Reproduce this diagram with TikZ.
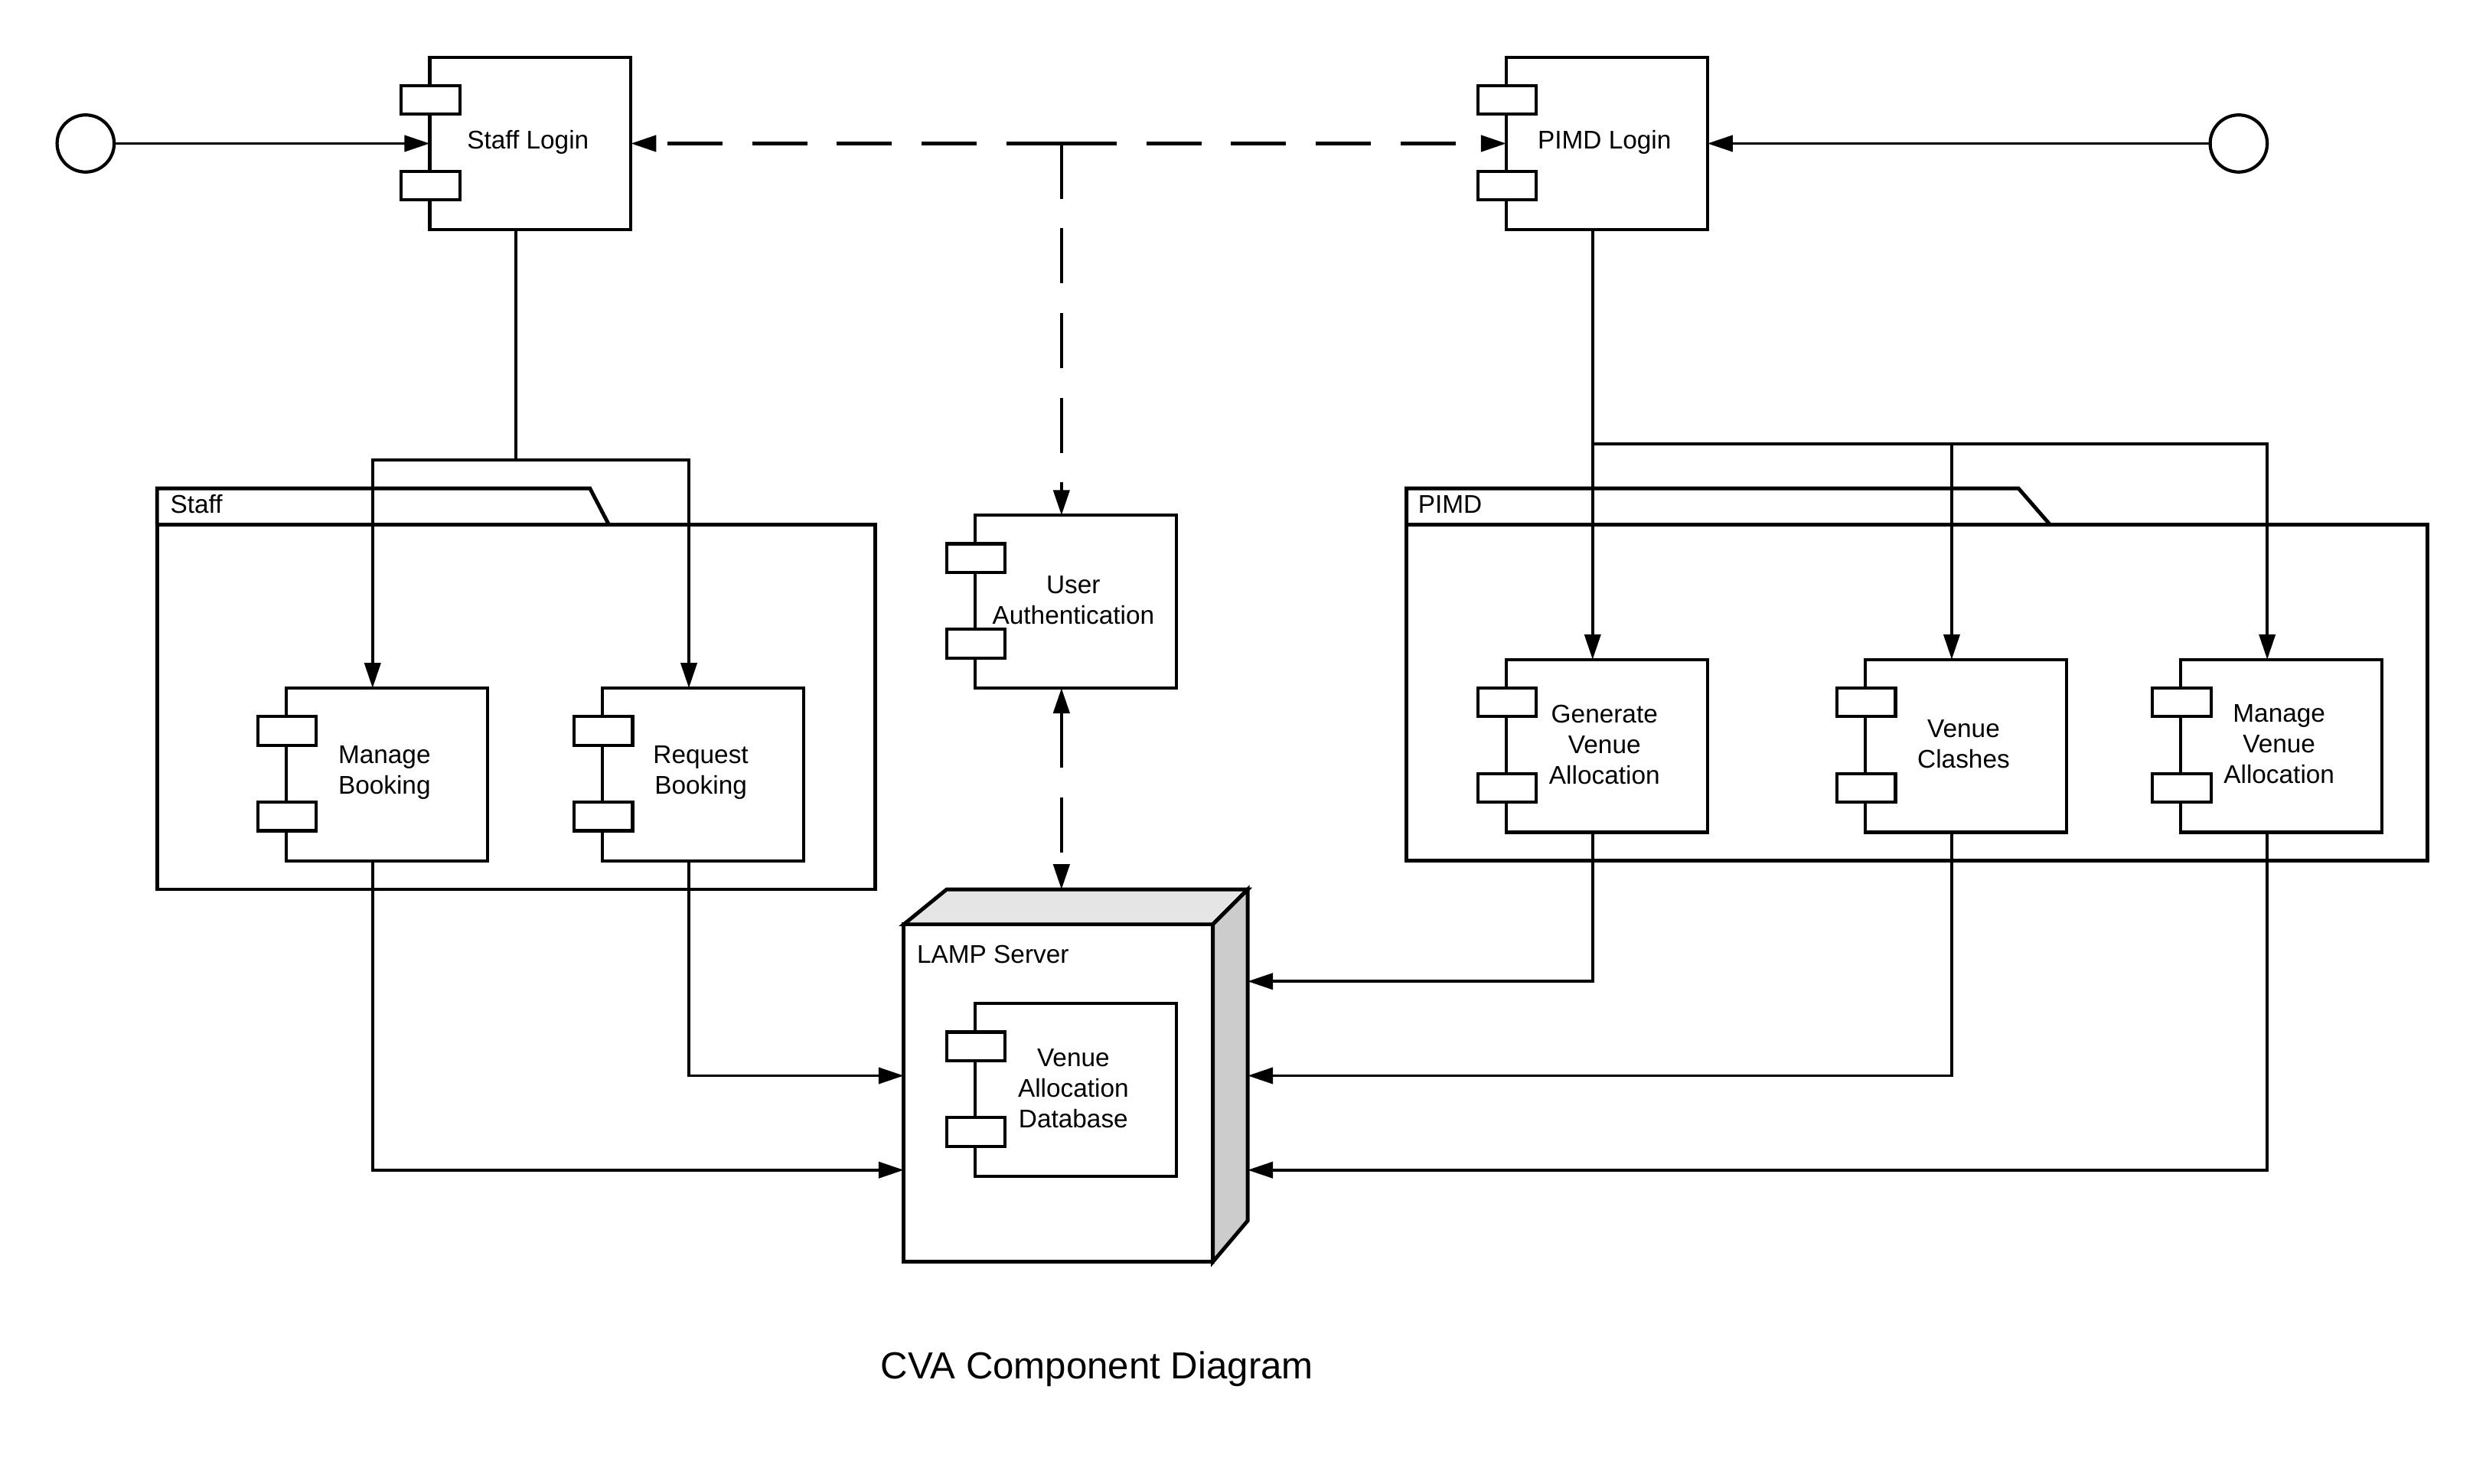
\documentclass[tikz,border=0pt]{standalone}
\usepackage{fontspec}
\setmainfont{Liberation Sans}
\usetikzlibrary{arrows.meta,calc}

% UML component: frame node spanning ports and body, body box, two ports, centred label
\newcommand\umlcomp[3]{%
  \node[compframe] (#1) at #2 {};
  \draw[boxline] ($(#1.north west)+(18,0)$) rectangle (#1.south east);
  \draw[portbox] ($(#1.north west)+(0,18)$) rectangle ++(37,18);
  \draw[portbox] ($(#1.south west)+(0,-37)$) rectangle ++(37,18);
  \node[complabel] (#1-text) at ($(#1.center)+(7.5,-1)$) {#3};
}

\begin{document}
\begin{tikzpicture}[x=0.020714cm, y=-0.020714cm,
  every node/.style={font=\fontsize{9.5}{11.4}\selectfont},
  compframe/.style={draw=none, minimum width=3.00353cm, minimum height=2.25783cm, inner sep=0, outer sep=0},
  boxline/.style={draw=black, line width=1.2pt, fill=white},
  portbox/.style={draw=black, line width=1.2pt, fill=white},
  complabel/.style={align=center, inner sep=0},
  tip/.style={-{Triangle[length=9.4pt,width=6pt]}},
  conn/.style={line width=1.1pt, tip},
  wire/.style={line width=1.1pt},
  depend/.style={line width=1.2pt, dash pattern=on 20.5pt off 11pt, tip},
  pkg/.style={draw=black, line width=1.4pt, fill=white, inner sep=0, outer sep=0},
  pkgtab/.style={draw=black, line width=1.4pt, line join=miter},
  pkglabel/.style={anchor=west, inner sep=0},
  srvface/.style={draw=black, line width=1.4pt, line join=miter},
  endpoint/.style={circle, draw=black, line width=1.2pt, fill=white, minimum size=0.7457cm, inner sep=0},
]
% page
\fill[white] (0,0) rectangle (1568,936);
\useasboundingbox (0,0) rectangle (1568,936);

% ---- packages ----
\node[pkg, minimum width=9.38344cm, minimum height=4.76422cm] (staffpkg) at (325.5,446) {};
\draw[pkgtab] (staffpkg.north west) -- ++(0,-23) -- ++(273,0) -- ($(staffpkg.north west)+(285,0)$);
\node[pkglabel] (staffpkg-text) at ($(staffpkg.north west)+(8,-13)$) {Staff};

\node[pkg, minimum width=13.33982cm, minimum height=4.39137cm] (pimdpkg) at (1209,437) {};
\draw[pkgtab] (pimdpkg.north west) -- ++(0,-23) -- ++(386,0) -- ($(pimdpkg.north west)+(406,0)$);
\node[pkglabel] (pimdpkg-text) at ($(pimdpkg.north west)+(7,-13)$) {PIMD};

% ---- components ----
\umlcomp{stafflogin}{(325.5,90.5)}{Staff Login}
\umlcomp{pimdlogin}{(1004.5,90.5)}{PIMD Login}
\umlcomp{manage}{(235,488.5)}{Manage\\Booking}
\umlcomp{request}{(434.5,488.5)}{Request\\Booking}
\umlcomp{auth}{(669.5,379.5)}{User\\Authentication}
\umlcomp{gen}{(1004.5,470.5)}{Generate\\Venue\\Allocation}
\umlcomp{clash}{(1231,470.5)}{Venue\\Clashes}
\umlcomp{mva}{(1430,470.5)}{Manage\\Venue\\Allocation}

% ---- LAMP server node (3D box) ----
\node[draw=none, minimum width=4.49494cm, minimum height=4.86779cm, inner sep=0, outer sep=0] (lamp) at (678.5,678.5) {};
\draw[srvface, fill=white] ($(lamp.north west)+(0,22)$) rectangle ($(lamp.south east)+(-22,0)$);
\draw[srvface, fill=black!10] ($(lamp.north west)+(0,22)$) -- ($(lamp.north west)+(27,0)$)
  -- (lamp.north east) -- ($(lamp.north east)+(-22,22)$) -- cycle;
\draw[srvface, fill=black!20] ($(lamp.north east)+(-22,22)$) -- (lamp.north east)
  -- ($(lamp.south east)+(0,-26)$) -- ($(lamp.south east)+(-22,0)$) -- cycle;
\node[anchor=west, inner sep=0] (lamp-text) at ($(lamp.north west)+(8,41)$) {LAMP Server};
\umlcomp{db}{(669.5,687.5)}{Venue\\Allocation\\Database}

% ---- entry points ----
\node[endpoint] (entryL) at (54,90.5) {};
\node[endpoint] (entryR) at (1412,90.5) {};
\draw[conn] (entryL) -- ($(stafflogin.west)+(18,0)$);
\draw[conn] (entryR) -- (pimdlogin.east);

% ---- authentication dependencies ----
\coordinate (hub) at (auth.north |- stafflogin.center);
\draw[depend] (hub) -- (stafflogin.east);
\draw[depend] (hub) -- ($(pimdlogin.west)+(18,0)$);
\draw[depend] (hub) -- (auth.north);
\draw[depend, {Triangle[length=9.4pt,width=6pt]}-{Triangle[length=9.4pt,width=6pt]}]
  (auth.south) -- (auth.south |- lamp.north);

% ---- staff side ----
\coordinate (sfork) at ($(stafflogin.south)+(0,145)$);
\draw[wire] (stafflogin.south) -- (sfork);
\draw[conn] (sfork) -| (manage.north);
\draw[conn] (sfork) -| (request.north);
\draw[conn] (manage.south) |- ($(lamp.west)+(0,59.5)$);
\draw[conn] (request.south) |- (lamp.west);

% ---- PIMD side ----
\coordinate (pfork) at ($(pimdlogin.south)+(0,135)$);
\draw[conn] (pimdlogin.south) -- (gen.north);
\draw[conn] (pfork) -| (clash.north);
\draw[conn] (pfork) -| (mva.north);
\draw[conn] (gen.south) |- ($(lamp.east)+(0,-59.5)$);
\draw[conn] (clash.south) |- (lamp.east);
\draw[conn] (mva.south) |- ($(lamp.east)+(0,59.5)$);

% ---- caption ----
\node[font=\fontsize{14}{17}\selectfont] (caption) at (692,863.5) {CVA Component Diagram};
\end{tikzpicture}
\end{document}
